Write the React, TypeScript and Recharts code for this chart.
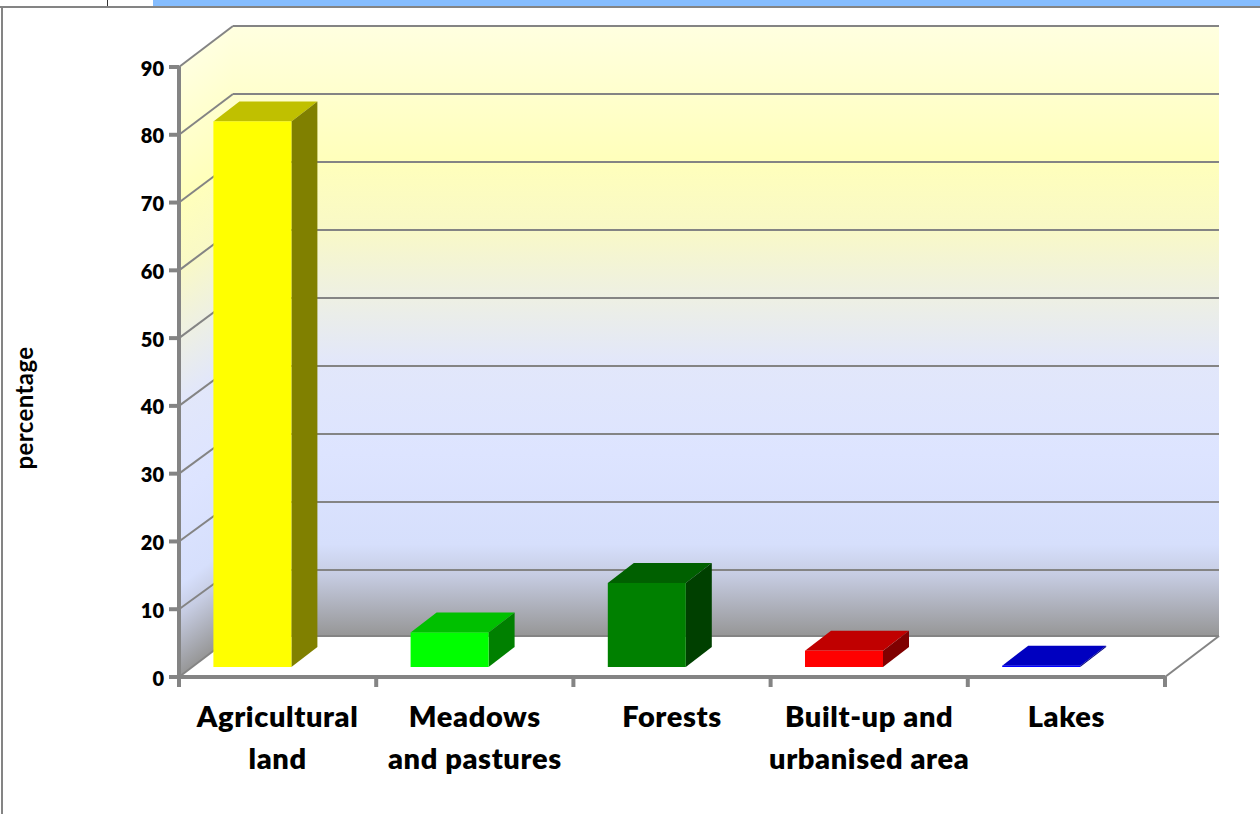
import React from 'react';
import { BarChart, Bar, XAxis, YAxis, CartesianGrid, ReferenceArea } from 'recharts';

const categories = ['Agricultural land', 'Meadows and pastures', 'Forests', 'Built-up and urbanised area', 'Lakes'];
const categoryLines = [['Agricultural', 'land'], ['Meadows', 'and pastures'], ['Forests'], ['Built-up and', 'urbanised area'], ['Lakes']];
const percentages = [80.5, 5.1, 12.4, 2.4, 0.2];
const yTicks = [0, 10, 20, 30, 40, 50, 60, 70, 80, 90];

const frontColors = ['#ffff00', '#00ff00', '#008000', '#ff0000', '#0000ff'];
const topColors = ['#c0c000', '#00c000', '#006000', '#c00000', '#0000c0'];
const sideColors = ['#808000', '#008000', '#004000', '#800000', '#000080'];

const chartData = categories.map((name, i) => ({ name, value: percentages[i] }));

const AXIS_GREY = '#848484';
const FONT = 'Lato, sans-serif';

// depth of the box the chart sits in, and of each bar
const WALL_DX = 54;
const WALL_DY = -41;
const BAR_DX = 26;
const BAR_DY = -20;
// bars stand a little way back from the front edge of the floor
const BAR_SHIFT_X = -25.6;
const BAR_SHIFT_Y = -10;

const wallStops: [string, string][] = [
  ['0%', '#ffffe0'],
  ['22%', '#ffffbb'],
  ['33%', '#f9f9c6'],
  ['44%', '#eef0e2'],
  ['55%', '#e2e7fa'],
  ['70%', '#dde4ff'],
  ['85%', '#d6dffc'],
  ['90%', '#c6cce2'],
  ['100%', '#969696'],
];

function WallShape({ x, y, width, height }: any) {
  const bottom = y + height;
  const right = x + width;
  return (
    <g>
      <polygon
        points={`${x},${y} ${x + WALL_DX},${y + WALL_DY} ${x + WALL_DX},${bottom + WALL_DY} ${x},${bottom}`}
        fill="url(#sideWall)"
      />
      <rect x={x + WALL_DX} y={y + WALL_DY} width={width} height={height} fill="url(#backWall)" />
      <line
        x1={right}
        y1={bottom}
        x2={right + WALL_DX}
        y2={bottom + WALL_DY}
        stroke={AXIS_GREY}
        strokeWidth={2}
      />
    </g>
  );
}

// one gridline wraps from the value axis onto the back wall
function wallGridLine({ x1, y1, x2 }: any) {
  // back wall lines land on whole pixels, 68px apart, and stop at the floor
  const backY = Math.min(636, 26 + Math.round((y1 - 67) / 67.78) * 68);
  return (
    <g key={`grid-${y1}`}>
      <line x1={x1} y1={y1} x2={x1 + WALL_DX} y2={backY} stroke={AXIS_GREY} strokeWidth={2} />
      <line x1={x1 + WALL_DX} y1={backY} x2={x2 + WALL_DX} y2={backY} stroke={AXIS_GREY} strokeWidth={2} />
    </g>
  );
}

function Box3D({ x, y, width, height, index }: any) {
  const left = x + BAR_SHIFT_X;
  const top = y + BAR_SHIFT_Y;
  const right = left + width;
  const bottom = top + height;
  return (
    <g>
      <polygon
        points={`${left},${top} ${left + BAR_DX},${top + BAR_DY} ${right + BAR_DX},${top + BAR_DY} ${right},${top}`}
        fill={topColors[index]}
      />
      <polygon
        points={`${right},${top} ${right + BAR_DX},${top + BAR_DY} ${right + BAR_DX},${bottom + BAR_DY} ${right},${bottom}`}
        fill={sideColors[index]}
      />
      <rect x={left} y={top} width={width} height={height} fill={frontColors[index]} />
    </g>
  );
}

// category labels, plus the tick marks that sit between categories
function CategoryTick({ x, y, index, width }: any) {
  const band = width / categories.length;
  const lines = categoryLines[index];
  return (
    <g>
      <line x1={x - band / 2} y1={y - 8} x2={x - band / 2} y2={y + 2} stroke={AXIS_GREY} strokeWidth={4} />
      {index === categories.length - 1 && (
        <line x1={x + band / 2} y1={y - 8} x2={x + band / 2} y2={y + 2} stroke={AXIS_GREY} strokeWidth={4} />
      )}
      <text
        x={x}
        y={y + 42}
        textAnchor="middle"
        fill="#000"
        fontFamily={FONT}
        fontWeight={800}
        fontSize={29}
        letterSpacing={0.6}
      >
        {lines.map((line, i) => (
          <tspan key={line} x={x} dy={i === 0 ? 0 : 42}>
            {line}
          </tspan>
        ))}
      </text>
    </g>
  );
}

export default function App() {
  return (
    <div style={{ position: 'relative', width: 1260, height: 814, overflow: 'hidden', background: '#fff' }}>
      <style>{'body{margin:0}'}</style>
      <div style={{ position: 'absolute', left: 153, top: 0, width: 1107, height: 6, background: '#85bdff' }} />
      <div style={{ position: 'absolute', left: 107, top: 0, width: 1, height: 6, background: '#333' }} />
      <div style={{ position: 'absolute', left: 0, top: 6, width: 1260, height: 2, background: AXIS_GREY }} />
      <div style={{ position: 'absolute', left: 1, top: 6, width: 2, height: 808, background: AXIS_GREY }} />
      <BarChart
        width={1260}
        height={814}
        data={chartData}
        margin={{ top: 67, right: 95, bottom: 37, left: 119 }}
        style={{ position: 'absolute', left: 0, top: 0 }}
      >
        <defs>
          <linearGradient id="backWall" gradientUnits="objectBoundingBox" x1="0" y1="0" x2="0" y2="1">
            {wallStops.map(([offset, color]) => (
              <stop key={offset} offset={offset} stopColor={color} />
            ))}
          </linearGradient>
          <linearGradient
            id="sideWall"
            gradientUnits="userSpaceOnUse"
            x1="0"
            y1="26"
            x2="0"
            y2="636"
            gradientTransform={`matrix(1 ${WALL_DY / WALL_DX} 0 1 0 ${(-233 * WALL_DY) / WALL_DX})`}
          >
            {wallStops.map(([offset, color]) => (
              <stop key={offset} offset={offset} stopColor={color} />
            ))}
          </linearGradient>
        </defs>
        <ReferenceArea y1={0} y2={90} ifOverflow="visible" shape={WallShape} zIndex={-200} />
        <CartesianGrid vertical={false} horizontal={wallGridLine} />
        <XAxis
          dataKey="name"
          height={100}
          interval={0}
          tick={CategoryTick}
          tickLine={false}
          axisLine={{ stroke: AXIS_GREY, strokeWidth: 4 }}
        />
        <YAxis
          width={60}
          domain={[0, 90]}
          ticks={yTicks}
          interval={0}
          tickSize={10}
          tickMargin={5}
          tickLine={{ stroke: AXIS_GREY, strokeWidth: 4 }}
          axisLine={{ stroke: AXIS_GREY, strokeWidth: 4 }}
          tick={{ fill: '#000', fontSize: 20, fontFamily: FONT, fontWeight: 800, dy: 1.5 }}
          label={{
            value: 'percentage',
            angle: -90,
            position: 'insideLeft',
            dx: -100,
            dy: 36,
            style: { fill: '#000', fontSize: 24, fontFamily: FONT, fontWeight: 700, letterSpacing: 0.4, textAnchor: 'middle' },
          }}
        />
        <Bar dataKey="value" barSize={78} isAnimationActive={false} shape={Box3D} />
      </BarChart>
    </div>
  );
}
